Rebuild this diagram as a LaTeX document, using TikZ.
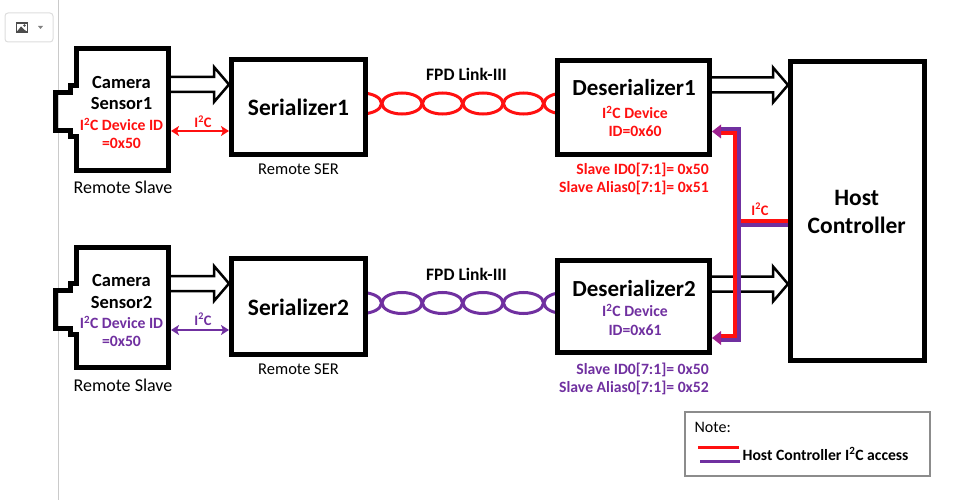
\documentclass[tikz,border=0pt]{standalone}
\usepackage{fontspec}
\setmainfont{Carlito}
\usetikzlibrary{calc,arrows.meta,backgrounds}
\definecolor{ired}{HTML}{FF1010}
\definecolor{ipur}{HTML}{7030A0}
\definecolor{imag}{HTML}{9E2090}
\definecolor{uigray}{HTML}{DDDDDD}
\newcommand\fsz[1]{\fontsize{#1}{#1}\selectfont}
\newcommand\itc{I\textsuperscript{2}C}
% hollow block arrow from #1 to tip #2
\newcommand\hollowarrow[2]{%
  \draw[blockarr] ($(#1)+(0,-7.5)$) -- ($(#2)+(-15,-7.5)$) -- ($(#2)+(-15,-17.5)$)
   -- (#2) -- ($(#2)+(-15,17.5)$) -- ($(#2)+(-15,7.5)$) -- ($(#1)+(0,7.5)$);}
% camera notch on the west side of a box, relative to its centre
\newcommand\camnotch[1]{%
  \begin{scope}[shift={(#1.center)}]
    \fill[white] (-48.7,-21.5) rectangle (-43.4,24.5);
    \draw[line width=5pt, line join=miter] (-46,-24) -- (-52,-24) -- (-52,-17) -- (-67,-17)
      -- (-67,21) -- (-52,21) -- (-52,27) -- (-46,27);
  \end{scope}}
\begin{document}
\begin{tikzpicture}[x=1pt,y=-1pt,
  box/.style={draw=black, line width=5pt, fill=white, inner sep=0pt},
  txt/.style={inner sep=0pt, anchor=base},
  blockarr/.style={draw=black, line width=2.5pt, line join=miter},
  twist/.style={line width=3pt},
  i2carr/.style={line width=2.5pt, {Stealth[length=8pt,width=10pt,inset=2pt]}-{Stealth[length=8pt,width=10pt,inset=2pt]}},
  bus/.style={line width=4pt, line join=miter}]
\useasboundingbox (0,0) rectangle (964,500);

% ---- viewer UI ----
\draw[uigray, line width=1pt, rounded corners=3pt, fill=white] (5,13) rectangle (53,42);
\draw[uigray!80!gray, line width=1pt] (58,0) -- (58,500);
\node[draw=black!70, line width=1.5pt, minimum width=11pt, minimum height=9pt, inner sep=0pt] (icon) at (22,27.5) {};
\fill[black!70] ($(icon.south west)+(1,-1)$) -- ($(icon.center)+(-1,-1)$) -- ($(icon.center)+(2,2)$) -- ($(icon.south east)+(-1,-1)$) -- cycle;
\fill[black!70] ($(icon.center)+(2.5,-2)$) circle (1.3);
\fill[black!50] (38,26) -- (43,26) -- (40.5,29) -- cycle;

% ---- boxes ----
\node[box, minimum width=92pt, minimum height=122pt] (cam1) at (122.5,109.5) {};
\node[box, minimum width=92pt, minimum height=120pt] (cam2) at (122.5,307.5) {};
\camnotch{cam1}
\camnotch{cam2}
\node[box, minimum width=134pt, minimum height=95pt] (ser1) at (298.5,107) {};
\node[box, minimum width=134pt, minimum height=96pt] (ser2) at (298.5,306.5) {};
\node[box, minimum width=152pt, minimum height=94pt] (des1) at (633.5,107.5) {};
\node[box, minimum width=152pt, minimum height=92pt] (des2) at (633.5,306.5) {};
\node[box, minimum width=134pt, minimum height=299pt] (host) at (857.5,211) {};

% ---- twisted pairs (behind boxes) ----
\begin{scope}[on background layer]
  \foreach \k in {0,...,5} {
    \draw[twist, ired] ($(ser1.east)+(-6.5+40.5*\k,-3.5)$) ellipse [x radius=20, y radius=10.5];
    \draw[twist, ipur] ($(ser2.east)+(-6.5+40.5*\k,-3.5)$) ellipse [x radius=20, y radius=10.5];
  }
\end{scope}

% ---- block arrows ----
\coordinate (c1o) at (cam1.east |- 0,84.5);
\coordinate (s1i) at (ser1.west |- 0,84.5);
\coordinate (c2o) at (cam2.east |- 0,283.5);
\coordinate (s2i) at (ser2.west |- 0,283.5);
\coordinate (d1o) at (des1.east |- 0,85);
\coordinate (h1i) at (host.west |- 0,85);
\coordinate (d2o) at (des2.east |- 0,284);
\coordinate (h2i) at (host.west |- 0,284);
\hollowarrow{c1o}{s1i}
\hollowarrow{c2o}{s2i}
\hollowarrow{d1o}{h1i}
\hollowarrow{d2o}{h2i}

% ---- I2C local links ----
\draw[i2carr, ired] (cam1.east |- 0,131) -- (ser1.west |- 0,131);
\draw[i2carr, ipur] (cam2.east |- 0,330) -- (ser2.west |- 0,330);
\node[txt, ired, font=\bfseries\fsz{14.5}] (l1) at (203,127.3) {\itc};
\node[txt, ipur, font=\bfseries\fsz{14.5}] (l2) at (203,325) {\itc};

% ---- host I2C bus ----
\coordinate (tipT) at (des1.east |- 0,131.5);
\coordinate (tipB) at (des2.east |- 0,338);
\coordinate (hostI) at (host.west |- 0,223);
\draw[bus, ired] ($(hostI)+(0,-2)$) -- ++(-50,0);
\draw[bus, ipur] ($(hostI)+(0,2)$) -- ++(-50,0);
\draw[bus, ired] ($(tipT)+(7,2)$) -- ++(16,0) |- ($(tipB)+(7,-2)$);
\draw[bus, ipur] ($(tipT)+(7,-2)$) -- ++(20,0) |- ($(tipB)+(7,2)$);
\fill[imag] (tipT) -- ++(9,-7) -- ++(0,14) -- cycle;
\fill[imag] (tipB) -- ++(9,-7) -- ++(0,14) -- cycle;
\node[txt, ired, font=\bfseries\fsz{14.5}] (l3) at (760,215) {\itc};

% ---- texts ----
\begin{scope}[every node/.append style={txt}]
\node[font=\bfseries\fsz{18.5}] (c1a) at ($(cam1.center)+(-1,-21.2)$) {Camera};
\node[font=\bfseries\fsz{18.5}] (c1b) at ($(cam1.center)+(-1,0.5)$) {Sensor1};
\node[font=\bfseries\fsz{15.7}, ired] (c1c) at ($(cam1.center)+(-1,21.2)$) {\itc{} Device ID};
\node[font=\bfseries\fsz{15.7}, ired] (c1d) at ($(cam1.center)+(-1,39.5)$) {=0x50};
\node[font=\bfseries\fsz{18.5}] (c2a) at ($(cam2.center)+(-1,-20.8)$) {Camera};
\node[font=\bfseries\fsz{18.5}] (c2b) at ($(cam2.center)+(-1,0.8)$) {Sensor2};
\node[font=\bfseries\fsz{15.7}, ipur] (c2c) at ($(cam2.center)+(-1,20.8)$) {\itc{} Device ID};
\node[font=\bfseries\fsz{15.7}, ipur] (c2d) at ($(cam2.center)+(-1,39.2)$) {=0x50};
\node[font=\fsz{18}] (rs1) at (123,193.3) {Remote Slave};
\node[font=\fsz{18}] (rs2) at (123,391.7) {Remote Slave};

\node[font=\bfseries\fsz{23.5}] (s1t) at ($(ser1.center)+(0,8.7)$) {Serializer1};
\node[font=\bfseries\fsz{23.5}] (s2t) at ($(ser2.center)+(0,9)$) {Serializer2};
\node[font=\fsz{16.5}] (rser1) at (298.5,174.5) {Remote SER};
\node[font=\fsz{16.5}] (rser2) at (298.5,374) {Remote SER};

\node[font=\bfseries\fsz{17.5}] (f1) at (466.5,80.7) {FPD Link-III};
\node[font=\bfseries\fsz{17.5}] (f2) at (466.5,280.2) {FPD Link-III};

\node[font=\bfseries\fsz{23}] (d1a) at (634,96) {Deserializer1};
\node[font=\bfseries\fsz{15.7}, ired] (d1b) at (635,118.3) {\itc{} Device};
\node[font=\bfseries\fsz{15.7}, ired] (d1c) at (635,136.7) {ID=0x60};
\node[font=\bfseries\fsz{15.7}, ired, anchor=base east] (d1d) at (709,175) {Slave ID0[7:1]= 0x50};
\node[font=\bfseries\fsz{15.7}, ired, anchor=base east] (d1e) at (709,193) {Slave Alias0[7:1]= 0x51};
\node[font=\bfseries\fsz{23}] (d2a) at (634,296) {Deserializer2};
\node[font=\bfseries\fsz{15.7}, ipur] (d2b) at (635,316.7) {\itc{} Device};
\node[font=\bfseries\fsz{15.7}, ipur] (d2c) at (635,335.7) {ID=0x61};
\node[font=\bfseries\fsz{15.7}, ipur, anchor=base east] (d2d) at (709,374) {Slave ID0[7:1]= 0x50};
\node[font=\bfseries\fsz{15.7}, ipur, anchor=base east] (d2e) at (709,392.7) {Slave Alias0[7:1]= 0x52};

\node[font=\bfseries\fsz{23.5}] (h1) at (856.7,205) {Host};
\node[font=\bfseries\fsz{23.5}] (h2) at (856.7,233.3) {Controller};
\end{scope}

% ---- note ----
\node[draw=black!45, line width=1.2pt, minimum width=245pt, minimum height=64pt, inner sep=0pt] (note) at (807.5,444) {};
\node[txt, anchor=base west, font=\fsz{16}] (nt) at ($(note.north west)+(10,21.5)$) {Note:};
\draw[ired, line width=3pt] ($(note.west)+(14,3)$) -- ++(41,0);
\draw[ipur, line width=3pt] ($(note.west)+(16,17)$) -- ++(40,0);
\node[txt, anchor=base west, font=\bfseries\fsz{15.7}] (nl) at ($(note.west)+(58,16)$) {Host Controller \itc{} access};
\end{tikzpicture}
\end{document}
